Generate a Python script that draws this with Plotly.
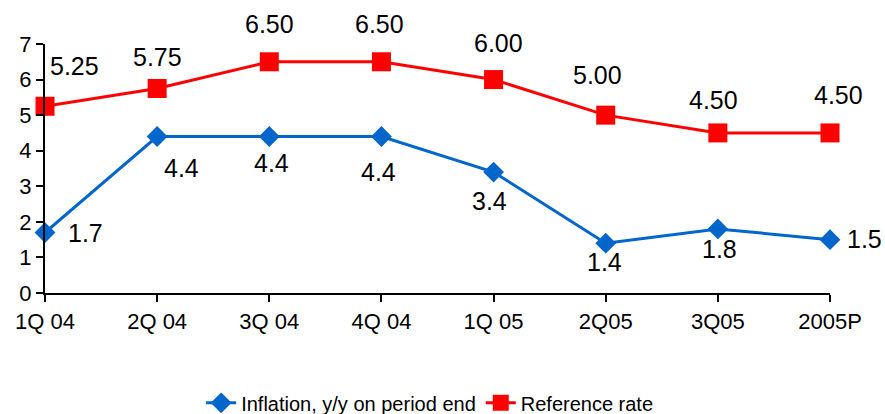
import plotly.graph_objects as go

# Quarterly periods on the category axis
periods = ["1Q 04", "2Q 04", "3Q 04", "4Q 04", "1Q 05", "2Q05", "3Q05", "2005P"]

# Series values (%)
inflation = [1.7, 4.4, 4.4, 4.4, 3.4, 1.4, 1.8, 1.5]
reference_rate = [5.25, 5.75, 6.50, 6.50, 6.00, 5.00, 4.50, 4.50]

# Label nudges in pixels (dx, dy) relative to each marker
inflation_label_shift = [(40, 0), (24, -32), (2, -27), (-3, -36), (-4, -29), (-1, -19), (2, -20), (34, 1)]
rate_label_shift = [(29, 40), (0, 31), (0, 38), (-2, 38), (5, 37), (-8, 40), (-4, 33), (8, 38)]

BLUE = "#0066CC"
RED = "#FF0000"
FONT = "Liberation Sans, Arial, sans-serif"

fig = go.Figure()
fig.add_trace(go.Scatter(
    x=periods, y=inflation, mode="lines+markers",
    name="Inflation, y/y on period end",
    line=dict(color=BLUE, width=3),
    marker=dict(symbol="diamond", size=16, color=BLUE),
    cliponaxis=False,
))
fig.add_trace(go.Scatter(
    x=periods, y=reference_rate, mode="lines+markers",
    name="Reference rate",
    line=dict(color=RED, width=3),
    marker=dict(symbol="square", size=19, color=RED),
    cliponaxis=False,
))

annotations = []
for p, v, (dx, dy) in zip(periods, inflation, inflation_label_shift):
    annotations.append(dict(x=p, y=v, xref="x", yref="y", text=f"{v:.1f}",
                            showarrow=False, xshift=dx, yshift=dy,
                            font=dict(size=25, color="black", family=FONT)))
for p, v, (dx, dy) in zip(periods, reference_rate, rate_label_shift):
    annotations.append(dict(x=p, y=v, xref="x", yref="y", text=f"{v:.2f}",
                            showarrow=False, xshift=dx, yshift=dy,
                            font=dict(size=25, color="black", family=FONT)))

fig.update_layout(
    width=885, height=414,
    margin=dict(l=45, r=55, t=44, b=121, autoexpand=False),
    paper_bgcolor="white", plot_bgcolor="white",
    font=dict(family=FONT, color="black", size=22),
    showlegend=True,
    legend=dict(orientation="h", x=0.49, xanchor="center",
                yref="container", y=0.027, yanchor="middle",
                font=dict(size=20), tracegroupgap=0),
    annotations=annotations,
)
fig.update_xaxes(
    type="category", range=[0, len(periods) - 1],
    showline=True, linecolor="black", linewidth=2,
    ticks="outside", ticklen=7, tickcolor="black", tickwidth=2,
    showgrid=False, zeroline=False, ticklabelstandoff=1, automargin=False,
    tickfont=dict(size=22),
)
fig.update_yaxes(
    range=[0, 7], dtick=1, tick0=0,
    showline=True, linecolor="black", linewidth=2,
    ticks="outside", ticklen=7, tickcolor="black", tickwidth=2,
    showgrid=False, zeroline=False, automargin=False,
    tickfont=dict(size=22),
)

fig.write_html("out.html")
